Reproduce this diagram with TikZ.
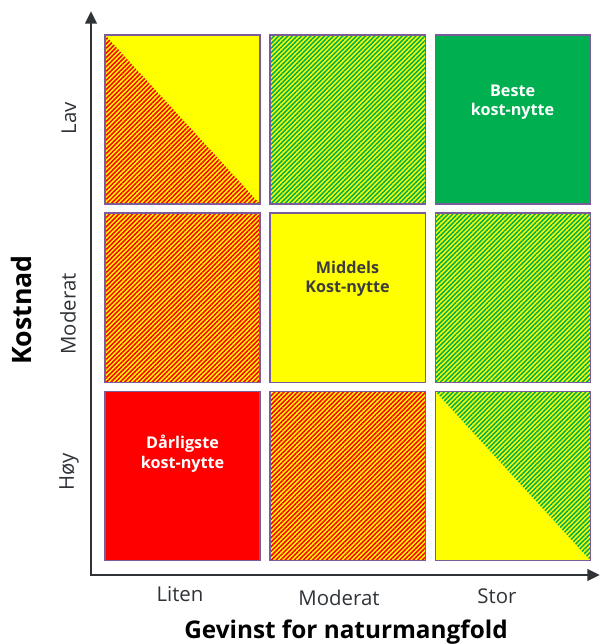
\documentclass[tikz,border=0pt]{standalone}
\usepackage{fontspec}
\setmainfont{Open Sans}
\usetikzlibrary{positioning}
\usetikzlibrary{patterns.meta}
\usetikzlibrary{arrows.meta}

\definecolor{gul}{HTML}{FFFF00}
\definecolor{roed}{HTML}{FF0000}
\definecolor{groenn}{HTML}{00B050}
\definecolor{ramme}{HTML}{7A5C9C}
\definecolor{akse}{HTML}{2F3338}
\definecolor{mork}{HTML}{3C3C3C}

\tikzset{
  felt/.style={draw=ramme, line width=0.8pt, rectangle, minimum width=3.875cm, minimum height=4.225cm},
  rodstriper/.style={pattern={Lines[angle=45,distance=2.3pt,line width=1.1pt]}, pattern color=roed},
  gronnstriper/.style={pattern={Lines[angle=45,distance=2.3pt,line width=1.1pt]}, pattern color=groenn},
  felttekst/.style={align=center, font=\fontsize{11.5}{14}\selectfont\bfseries},
  aksetekst/.style={text=akse, font=\fontsize{14.5}{16}\selectfont},
  aksetittel/.style={text=black, font=\fontsize{17.3}{19}\selectfont\bfseries}
}

\begin{document}
\begin{tikzpicture}[x=0.025cm, y=-0.025cm, outer sep=0]
        \useasboundingbox (0,0) rectangle (601,644);
        % top row
        \node [felt, fill=gul, path picture={\fill[rodstriper] (path picture bounding box.north west) -- (path picture bounding box.south east) -- (path picture bounding box.south west) -- cycle;}] (lavliten) at (182.5,119.5) {};
        \node [felt, preaction={fill=gul}, gronnstriper, right = 0.25cm of lavliten] (lavmoderat) {};
        \node [felt, fill=groenn, right = 0.25cm of lavmoderat] (lavstor) {};
        % middle row
        \node [felt, preaction={fill=gul}, rodstriper, below = 0.225cm of lavliten] (modliten) {};
        \node [felt, fill=gul, right = 0.25cm of modliten] (modmoderat) {};
        \node [felt, preaction={fill=gul}, gronnstriper, right = 0.25cm of modmoderat] (modstor) {};
        % bottom row
        \node [felt, fill=roed, below = 0.225cm of modliten] (hoyliten) {};
        \node [felt, preaction={fill=gul}, rodstriper, right = 0.25cm of hoyliten] (hoymoderat) {};
        \node [felt, fill=gul, path picture={\fill[gronnstriper] (path picture bounding box.north west) -- (path picture bounding box.north east) -- (path picture bounding box.south east) -- cycle;}, right = 0.25cm of hoymoderat] (hoystor) {};
        % texts in the boxes
        \node [felttekst, text=white] (beste) at ([yshift=0.43cm]lavstor.center) {Beste\\kost-nytte};
        \node [felttekst, text=mork] (middels) at ([yshift=0.47cm]modmoderat.center) {Middels\\Kost-nytte};
        \node [felttekst, text=white] (darligste) at ([yshift=0.55cm]hoyliten.center) {Dårligste\\kost-nytte};
        % axes
        \coordinate (origo) at (91,575);
        \coordinate (ytopp) at (91,11);
        \coordinate (xende) at (600,575);
        \draw [akse, line width=2.1pt, {Triangle[length=9pt,width=8pt]}-{Triangle[length=9pt,width=8pt]}] (ytopp) -- (origo) -- (xende);
        % axis labels
        \node [aksetekst, rotate=90] (lav) at (69,118) {Lav};
        \node [aksetekst, rotate=90] (ymoderat) at (68,314) {Moderat};
        \node [aksetekst, rotate=90] (hoy) at (69,472) {Høy};
        \node [aksetekst] (liten) at (180,594) {Liten};
        \node [aksetekst] (xmoderat) at (339,598) {Moderat};
        \node [aksetekst] (stor) at (497,596) {Stor};
        \node [aksetittel, rotate=90, font=\fontsize{19}{21}\selectfont\bfseries] (kostnad) at (21,310) {Kostnad};
        \node [aksetittel] (gevinst) at (346,632) {Gevinst for naturmangfold};
    \end{tikzpicture}
\end{document}
